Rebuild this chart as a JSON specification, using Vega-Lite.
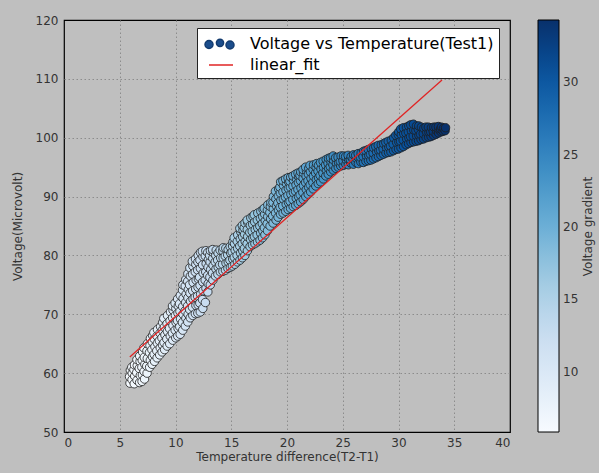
{
  "$schema": "https://vega.github.io/schema/vega-lite/v6.json",
  "width": 446,
  "height": 412,
  "autosize": {"type": "none"},
  "padding": {"left": 64, "top": 20, "right": 89, "bottom": 41},
  "background": "#bfbfbf",
  "config": {
    "font": "DejaVu Sans",
    "view": {"fill": "white", "stroke": "#000000", "strokeWidth": 1.2},
    "axis": {
      "labelFont": "DejaVu Sans",
      "labelFontSize": 12,
      "labelColor": "#333333",
      "titleFont": "DejaVu Sans",
      "titleFontSize": 12,
      "titleFontWeight": "normal",
      "titleColor": "#333333",
      "domain": false,
      "ticks": false,
      "gridColor": "#8c8c8c",
      "gridDash": [1.5, 2.5],
      "gridWidth": 1
    }
  },
  "resolve": {"scale": {"y": "independent"}, "axis": {"y": "independent"}},
  "datasets": {
    "obs": [
      {"t":5.92,"v":58.3},{"t":5.88,"v":59.4},{"t":5.95,"v":60.5},
      {"t":6.10,"v":58.9},{"t":6.12,"v":60.0},{"t":6.08,"v":61.0},
      {"t":6.30,"v":58.2},{"t":6.34,"v":59.5},{"t":6.27,"v":60.6},{"t":6.32,"v":61.4},
      {"t":6.55,"v":58.8},{"t":6.52,"v":60.1},{"t":6.57,"v":61.3},{"t":6.54,"v":62.3},
      {"t":6.78,"v":58.4},{"t":6.84,"v":59.6},{"t":6.75,"v":60.8},{"t":6.82,"v":62.0},{"t":6.79,"v":62.9},
      {"t":7.00,"v":58.6},{"t":7.03,"v":59.7},{"t":6.98,"v":61.0},{"t":7.02,"v":62.2},{"t":7.05,"v":63.6},
      {"t":7.22,"v":59.0},{"t":7.18,"v":60.3},{"t":7.25,"v":61.5},{"t":7.20,"v":62.7},{"t":7.16,"v":64.3},
      {"t":7.45,"v":60.0},{"t":7.42,"v":61.2},{"t":7.47,"v":62.5},{"t":7.44,"v":63.8},{"t":7.48,"v":65.0},
      {"t":7.68,"v":61.0},{"t":7.74,"v":62.2},{"t":7.66,"v":63.5},{"t":7.71,"v":64.7},{"t":7.75,"v":65.9},
      {"t":7.90,"v":61.5},{"t":7.93,"v":62.8},{"t":7.88,"v":64.0},{"t":7.92,"v":65.3},{"t":7.95,"v":66.4},
      {"t":8.12,"v":62.0},{"t":8.08,"v":63.2},{"t":8.15,"v":64.5},{"t":8.10,"v":65.8},{"t":8.06,"v":66.9},
      {"t":8.35,"v":62.6},{"t":8.32,"v":63.8},{"t":8.37,"v":65.1},{"t":8.34,"v":66.3},{"t":8.38,"v":67.4},
      {"t":8.58,"v":63.1},{"t":8.63,"v":64.3},{"t":8.55,"v":65.5},{"t":8.61,"v":66.8},{"t":8.66,"v":67.9},
      {"t":8.80,"v":63.6},{"t":8.83,"v":64.8},{"t":8.78,"v":66.0},{"t":8.82,"v":67.3},{"t":8.85,"v":68.6},
      {"t":9.02,"v":64.0},{"t":8.97,"v":65.2},{"t":9.05,"v":66.5},{"t":9.00,"v":67.8},{"t":8.95,"v":69.3},
      {"t":9.25,"v":64.6},{"t":9.22,"v":65.8},{"t":9.27,"v":67.1},{"t":9.24,"v":68.4},{"t":9.28,"v":69.8},
      {"t":9.48,"v":65.0},{"t":9.53,"v":66.3},{"t":9.46,"v":67.6},{"t":9.51,"v":68.9},{"t":9.55,"v":70.4},
      {"t":9.75,"v":65.6},{"t":9.72,"v":66.8},{"t":9.77,"v":68.1},{"t":9.74,"v":69.4},{"t":9.78,"v":70.7},{"t":9.73,"v":71.4},
      {"t":10.02,"v":66.0},{"t":9.97,"v":67.3},{"t":10.05,"v":68.6},{"t":9.99,"v":69.8},{"t":10.03,"v":71.0},{"t":9.96,"v":71.9},
      {"t":10.20,"v":66.3},{"t":10.23,"v":67.6},{"t":10.18,"v":68.9},{"t":10.22,"v":70.2},{"t":10.25,"v":71.4},{"t":10.19,"v":72.6},
      {"t":10.42,"v":66.6},{"t":10.38,"v":67.9},{"t":10.45,"v":69.2},{"t":10.40,"v":70.5},{"t":10.36,"v":71.8},{"t":10.43,"v":73.2},
      {"t":10.65,"v":67.3},{"t":10.62,"v":68.6},{"t":10.67,"v":70.0},{"t":10.64,"v":71.3},{"t":10.68,"v":72.7},{"t":10.63,"v":74.1},{"t":10.66,"v":75.0},
      {"t":10.88,"v":68.0},{"t":10.93,"v":69.3},{"t":10.86,"v":70.6},{"t":10.91,"v":72.0},{"t":10.95,"v":73.4},{"t":10.87,"v":74.8},{"t":10.92,"v":75.9},
      {"t":11.10,"v":68.7},{"t":11.13,"v":70.0},{"t":11.08,"v":71.4},{"t":11.12,"v":72.8},{"t":11.15,"v":74.2},{"t":11.09,"v":75.6},{"t":11.11,"v":76.9},
      {"t":11.32,"v":69.4},{"t":11.27,"v":70.8},{"t":11.35,"v":72.2},{"t":11.30,"v":73.6},{"t":11.26,"v":75.0},{"t":11.33,"v":76.5},{"t":11.29,"v":77.9},
      {"t":11.55,"v":69.8},{"t":11.52,"v":71.2},{"t":11.57,"v":72.6},{"t":11.54,"v":74.0},{"t":11.58,"v":75.4},{"t":11.53,"v":76.8},{"t":11.56,"v":78.2},{"t":11.51,"v":79.0},
      {"t":11.78,"v":70.1},{"t":11.83,"v":71.5},{"t":11.76,"v":72.9},{"t":11.81,"v":74.3},{"t":11.85,"v":75.8},{"t":11.77,"v":77.2},{"t":11.82,"v":78.5},{"t":11.79,"v":79.4},
      {"t":12.00,"v":70.2},{"t":12.03,"v":71.6},{"t":11.98,"v":73.1},{"t":12.02,"v":74.6},{"t":12.05,"v":76.0},{"t":11.99,"v":77.5},{"t":12.01,"v":78.9},{"t":12.04,"v":80.0},
      {"t":12.22,"v":70.4},{"t":12.18,"v":71.9},{"t":12.25,"v":73.4},{"t":12.20,"v":74.9},{"t":12.16,"v":76.3},{"t":12.23,"v":77.8},{"t":12.19,"v":79.2},{"t":12.24,"v":80.5},
      {"t":12.45,"v":71.0},{"t":12.42,"v":72.5},{"t":12.47,"v":74.0},{"t":12.44,"v":75.5},{"t":12.48,"v":77.0},{"t":12.43,"v":78.4},{"t":12.46,"v":79.8},{"t":12.41,"v":80.7},
      {"t":12.68,"v":72.0},{"t":12.73,"v":74.4},{"t":12.66,"v":75.8},{"t":12.71,"v":77.2},{"t":12.75,"v":78.6},{"t":12.67,"v":79.9},{"t":12.72,"v":80.8},
      {"t":12.90,"v":73.8},{"t":12.93,"v":75.2},{"t":12.88,"v":76.6},{"t":12.92,"v":78.0},{"t":12.95,"v":79.3},{"t":12.89,"v":80.5},
      {"t":13.12,"v":75.0},{"t":13.08,"v":76.3},{"t":13.15,"v":77.6},{"t":13.10,"v":78.9},{"t":13.06,"v":80.0},{"t":13.13,"v":80.8},
      {"t":13.35,"v":75.8},{"t":13.32,"v":77.0},{"t":13.37,"v":78.3},{"t":13.34,"v":79.5},{"t":13.38,"v":80.5},{"t":13.33,"v":81.0},
      {"t":13.58,"v":76.5},{"t":13.63,"v":77.7},{"t":13.56,"v":78.9},{"t":13.61,"v":80.0},{"t":13.65,"v":80.9},
      {"t":13.80,"v":76.8},{"t":13.83,"v":78.0},{"t":13.78,"v":79.2},{"t":13.82,"v":80.4},
      {"t":14.02,"v":77.2},{"t":13.97,"v":78.4},{"t":14.05,"v":79.6},{"t":14.00,"v":80.9},
      {"t":14.25,"v":77.3},{"t":14.22,"v":78.5},{"t":14.27,"v":79.6},{"t":14.24,"v":80.8},{"t":14.28,"v":81.3},
      {"t":14.48,"v":77.5},{"t":14.53,"v":78.7},{"t":14.46,"v":79.9},{"t":14.51,"v":81.2},
      {"t":14.70,"v":77.8},{"t":14.73,"v":78.9},{"t":14.68,"v":80.1},{"t":14.72,"v":81.0},
      {"t":14.92,"v":78.0},{"t":14.88,"v":79.2},{"t":14.95,"v":80.4},{"t":14.90,"v":81.5},
      {"t":15.10,"v":78.2},{"t":15.13,"v":79.4},{"t":15.08,"v":80.6},{"t":15.12,"v":81.6},{"t":15.15,"v":82.3},
      {"t":15.32,"v":78.5},{"t":15.27,"v":79.7},{"t":15.35,"v":80.9},{"t":15.30,"v":82.0},{"t":15.26,"v":83.0},
      {"t":15.55,"v":78.9},{"t":15.52,"v":80.0},{"t":15.57,"v":81.2},{"t":15.54,"v":82.4},{"t":15.58,"v":83.5},
      {"t":15.78,"v":79.2},{"t":15.83,"v":80.4},{"t":15.76,"v":81.6},{"t":15.81,"v":82.8},{"t":15.85,"v":84.0},{"t":15.77,"v":84.6},
      {"t":16.00,"v":79.6},{"t":16.03,"v":80.8},{"t":15.98,"v":82.0},{"t":16.02,"v":83.2},{"t":16.05,"v":84.3},{"t":15.99,"v":85.1},
      {"t":16.22,"v":80.0},{"t":16.18,"v":81.2},{"t":16.25,"v":82.4},{"t":16.20,"v":83.6},{"t":16.16,"v":84.7},{"t":16.23,"v":85.5},
      {"t":16.45,"v":80.8},{"t":16.42,"v":82.0},{"t":16.47,"v":83.2},{"t":16.44,"v":84.4},{"t":16.48,"v":85.6},{"t":16.43,"v":86.0},
      {"t":16.68,"v":81.5},{"t":16.73,"v":82.7},{"t":16.66,"v":83.9},{"t":16.71,"v":85.1},{"t":16.75,"v":86.4},
      {"t":16.90,"v":81.8},{"t":16.93,"v":83.0},{"t":16.88,"v":84.1},{"t":16.92,"v":85.3},{"t":16.95,"v":86.6},
      {"t":17.12,"v":82.0},{"t":17.08,"v":83.2},{"t":17.15,"v":84.4},{"t":17.10,"v":85.7},{"t":17.06,"v":86.9},
      {"t":17.35,"v":82.3},{"t":17.32,"v":83.5},{"t":17.37,"v":84.7},{"t":17.34,"v":86.0},{"t":17.38,"v":87.2},
      {"t":17.58,"v":82.6},{"t":17.63,"v":83.8},{"t":17.56,"v":85.0},{"t":17.61,"v":86.3},{"t":17.65,"v":87.5},
      {"t":17.80,"v":83.0},{"t":17.83,"v":84.2},{"t":17.78,"v":85.4},{"t":17.82,"v":86.6},{"t":17.85,"v":87.8},
      {"t":18.02,"v":83.5},{"t":17.97,"v":84.7},{"t":18.05,"v":85.9},{"t":18.00,"v":87.0},{"t":17.96,"v":88.0},
      {"t":18.25,"v":84.2},{"t":18.22,"v":85.4},{"t":18.27,"v":86.6},{"t":18.24,"v":87.7},{"t":18.28,"v":88.6},
      {"t":18.48,"v":85.0},{"t":18.53,"v":86.2},{"t":18.46,"v":87.3},{"t":18.51,"v":88.3},{"t":18.55,"v":89.0},
      {"t":18.75,"v":85.5},{"t":18.72,"v":86.7},{"t":18.77,"v":87.9},{"t":18.74,"v":89.0},{"t":18.78,"v":90.0},
      {"t":19.02,"v":86.0},{"t":18.97,"v":87.2},{"t":19.05,"v":88.4},{"t":19.00,"v":89.6},{"t":18.96,"v":90.9},
      {"t":19.20,"v":86.5},{"t":19.23,"v":87.7},{"t":19.18,"v":88.9},{"t":19.22,"v":90.1},{"t":19.25,"v":91.3},
      {"t":19.42,"v":87.0},{"t":19.38,"v":88.2},{"t":19.45,"v":89.4},{"t":19.40,"v":90.6},{"t":19.36,"v":91.6},{"t":19.43,"v":92.5},
      {"t":19.65,"v":87.2},{"t":19.62,"v":88.4},{"t":19.67,"v":89.6},{"t":19.64,"v":90.8},{"t":19.68,"v":91.9},{"t":19.63,"v":92.7},
      {"t":19.88,"v":87.5},{"t":19.93,"v":88.7},{"t":19.86,"v":89.9},{"t":19.91,"v":91.1},{"t":19.95,"v":92.2},{"t":19.87,"v":93.0},
      {"t":20.10,"v":87.8},{"t":20.13,"v":89.0},{"t":20.08,"v":90.2},{"t":20.12,"v":91.4},{"t":20.15,"v":92.5},{"t":20.09,"v":93.2},
      {"t":20.32,"v":88.0},{"t":20.27,"v":89.2},{"t":20.35,"v":90.4},{"t":20.30,"v":91.6},{"t":20.26,"v":92.6},{"t":20.33,"v":93.3},
      {"t":20.55,"v":88.3},{"t":20.52,"v":89.5},{"t":20.57,"v":90.7},{"t":20.54,"v":91.8},{"t":20.58,"v":92.8},{"t":20.53,"v":93.5},
      {"t":20.78,"v":88.5},{"t":20.83,"v":89.7},{"t":20.76,"v":90.9},{"t":20.81,"v":92.0},{"t":20.85,"v":93.0},{"t":20.77,"v":93.8},
      {"t":21.00,"v":88.8},{"t":21.03,"v":90.0},{"t":20.98,"v":91.2},{"t":21.02,"v":92.4},{"t":21.05,"v":93.4},{"t":20.99,"v":94.0},
      {"t":21.22,"v":89.1},{"t":21.18,"v":90.3},{"t":21.25,"v":91.5},{"t":21.20,"v":92.7},{"t":21.16,"v":93.6},{"t":21.23,"v":94.2},
      {"t":21.45,"v":89.5},{"t":21.42,"v":90.7},{"t":21.47,"v":91.9},{"t":21.44,"v":93.1},{"t":21.48,"v":94.0},{"t":21.43,"v":94.6},
      {"t":21.68,"v":90.0},{"t":21.73,"v":91.2},{"t":21.66,"v":92.4},{"t":21.71,"v":93.5},{"t":21.75,"v":94.4},{"t":21.67,"v":95.0},
      {"t":21.90,"v":90.4},{"t":21.93,"v":91.6},{"t":21.88,"v":92.7},{"t":21.92,"v":93.8},{"t":21.95,"v":94.8},
      {"t":22.12,"v":90.8},{"t":22.08,"v":92.0},{"t":22.15,"v":93.1},{"t":22.10,"v":94.2},{"t":22.06,"v":95.3},
      {"t":22.35,"v":91.3},{"t":22.32,"v":92.4},{"t":22.37,"v":93.5},{"t":22.34,"v":94.6},{"t":22.38,"v":95.4},
      {"t":22.58,"v":91.8},{"t":22.63,"v":92.9},{"t":22.56,"v":94.0},{"t":22.61,"v":95.0},{"t":22.65,"v":95.6},
      {"t":22.80,"v":92.2},{"t":22.83,"v":93.2},{"t":22.78,"v":94.3},{"t":22.82,"v":95.3},
      {"t":23.02,"v":92.5},{"t":22.97,"v":93.6},{"t":23.05,"v":94.7},{"t":23.00,"v":95.8},
      {"t":23.25,"v":93.0},{"t":23.22,"v":94.0},{"t":23.27,"v":95.0},{"t":23.24,"v":96.0},
      {"t":23.48,"v":93.5},{"t":23.53,"v":94.5},{"t":23.46,"v":95.4},{"t":23.51,"v":96.3},
      {"t":23.70,"v":93.8},{"t":23.73,"v":94.8},{"t":23.68,"v":95.7},{"t":23.72,"v":96.5},
      {"t":23.92,"v":94.2},{"t":23.88,"v":95.1},{"t":23.95,"v":95.9},{"t":23.90,"v":96.6},
      {"t":24.15,"v":94.5},{"t":24.12,"v":95.4},{"t":24.17,"v":96.2},{"t":24.14,"v":96.9},
      {"t":24.38,"v":94.8},{"t":24.43,"v":95.7},{"t":24.36,"v":96.6},
      {"t":24.60,"v":95.0},{"t":24.63,"v":95.8},{"t":24.58,"v":96.7},
      {"t":24.82,"v":95.2},{"t":24.78,"v":96.0},{"t":24.85,"v":96.9},
      {"t":25.05,"v":95.3},{"t":25.02,"v":96.1},{"t":25.07,"v":96.9},
      {"t":25.28,"v":95.5},{"t":25.33,"v":96.2},{"t":25.26,"v":96.8},
      {"t":25.50,"v":95.4},{"t":25.53,"v":96.3},{"t":25.48,"v":97.0},
      {"t":25.72,"v":95.7},{"t":25.68,"v":96.3},{"t":25.75,"v":96.8},
      {"t":25.95,"v":95.5},{"t":25.92,"v":96.4},{"t":25.97,"v":97.1},
      {"t":26.18,"v":95.8},{"t":26.23,"v":96.5},{"t":26.16,"v":97.0},
      {"t":26.40,"v":95.6},{"t":26.43,"v":96.6},{"t":26.38,"v":97.3},
      {"t":26.62,"v":95.9},{"t":26.58,"v":96.7},{"t":26.65,"v":97.4},
      {"t":26.85,"v":95.8},{"t":26.82,"v":96.8},{"t":26.87,"v":97.7},
      {"t":27.08,"v":96.0},{"t":27.13,"v":96.9},{"t":27.06,"v":97.8},
      {"t":27.30,"v":96.1},{"t":27.33,"v":97.0},{"t":27.28,"v":98.0},
      {"t":27.52,"v":96.2},{"t":27.48,"v":97.2},{"t":27.55,"v":98.2},
      {"t":27.75,"v":96.4},{"t":27.72,"v":97.4},{"t":27.77,"v":98.3},
      {"t":27.98,"v":96.6},{"t":28.03,"v":97.6},{"t":27.96,"v":98.5},
      {"t":28.20,"v":96.8},{"t":28.23,"v":97.8},{"t":28.18,"v":98.7},
      {"t":28.42,"v":97.0},{"t":28.38,"v":97.9},{"t":28.45,"v":98.8},
      {"t":28.65,"v":97.2},{"t":28.62,"v":98.1},{"t":28.67,"v":99.0},
      {"t":28.88,"v":97.4},{"t":28.93,"v":98.3},{"t":28.86,"v":99.2},
      {"t":29.10,"v":97.5},{"t":29.13,"v":98.4},{"t":29.08,"v":99.4},
      {"t":29.32,"v":97.6},{"t":29.28,"v":98.6},{"t":29.35,"v":99.6},
      {"t":29.55,"v":97.8},{"t":29.52,"v":98.9},{"t":29.57,"v":100.0},
      {"t":29.78,"v":98.0},{"t":29.83,"v":99.2},{"t":29.76,"v":100.4},
      {"t":30.00,"v":98.1},{"t":30.03,"v":99.3},{"t":29.98,"v":100.5},{"t":30.02,"v":101.0},
      {"t":30.22,"v":98.3},{"t":30.18,"v":99.4},{"t":30.25,"v":100.5},{"t":30.20,"v":101.5},
      {"t":30.45,"v":98.5},{"t":30.42,"v":99.6},{"t":30.47,"v":100.7},{"t":30.44,"v":101.7},
      {"t":30.68,"v":98.8},{"t":30.73,"v":99.8},{"t":30.66,"v":100.8},{"t":30.71,"v":101.8},
      {"t":30.90,"v":99.0},{"t":30.93,"v":100.0},{"t":30.88,"v":101.0},{"t":30.92,"v":102.0},
      {"t":31.12,"v":99.2},{"t":31.08,"v":100.2},{"t":31.15,"v":101.2},{"t":31.10,"v":102.2},
      {"t":31.35,"v":99.3},{"t":31.32,"v":100.3},{"t":31.37,"v":101.3},{"t":31.34,"v":102.3},
      {"t":31.58,"v":99.4},{"t":31.63,"v":100.3},{"t":31.56,"v":101.2},{"t":31.61,"v":102.0},
      {"t":31.80,"v":99.5},{"t":31.83,"v":100.4},{"t":31.78,"v":101.4},{"t":31.82,"v":102.0},
      {"t":32.02,"v":99.7},{"t":31.97,"v":100.6},{"t":32.05,"v":101.8},
      {"t":32.25,"v":99.8},{"t":32.22,"v":100.7},{"t":32.27,"v":101.6},
      {"t":32.48,"v":100.0},{"t":32.53,"v":100.9},{"t":32.46,"v":101.8},
      {"t":32.70,"v":100.1},{"t":32.73,"v":100.9},{"t":32.68,"v":101.8},
      {"t":32.92,"v":100.2},{"t":32.88,"v":101.0},{"t":32.95,"v":101.7},
      {"t":33.15,"v":100.4},{"t":33.12,"v":101.1},{"t":33.17,"v":101.8},
      {"t":33.38,"v":100.6},{"t":33.43,"v":101.2},{"t":33.36,"v":101.8},
      {"t":33.60,"v":100.8},{"t":33.63,"v":101.4},{"t":33.58,"v":101.9},
      {"t":33.82,"v":101.0},{"t":33.78,"v":101.5},{"t":33.85,"v":101.8},
      {"t":34.00,"v":101.1},{"t":34.03,"v":101.6},
      {"t":34.18,"v":101.2},{"t":34.22,"v":101.7}
    ],
    "fit": [
      {"t": 5.9, "v": 62.75},
      {"t": 33.9, "v": 109.8}
    ],
    "keys": [
      {"series": "Voltage vs Temperature(Test1)"},
      {"series": "linear_fit"}
    ]
  },
  "layer": [
    {
      "data": {"name": "obs"},
      "mark": {"type": "point", "filled": true, "shape": "circle", "size": 72, "opacity": 1, "stroke": "#1e1e1e", "strokeWidth": 0.8},
      "encoding": {
        "x": {
          "field": "t", "type": "quantitative",
          "scale": {"domain": [0, 40], "nice": false, "zero": false},
          "axis": {
            "values": [0, 5, 10, 15, 20, 25, 30, 35, 40],
            "title": "Temperature difference(T2-T1)",
            "labelPadding": 5,
            "titlePadding": 3,
            "gridOpacity": {"condition": {"test": "datum.value === 0 || datum.value === 40", "value": 0}, "value": 1}
          }
        },
        "y": {
          "field": "v", "type": "quantitative",
          "scale": {"domain": [50, 120], "nice": false, "zero": false},
          "axis": {
            "values": [50, 60, 70, 80, 90, 100, 110, 120],
            "title": "Voltage(Microvolt)",
            "labelPadding": 6,
            "titlePadding": 11,
            "gridOpacity": {"condition": {"test": "datum.value === 50 || datum.value === 120", "value": 0}, "value": 1}
          }
        },
        "color": {
          "field": "t", "type": "quantitative",
          "scale": {
            "domain": [5.86, 34.28],
            "range": ["#f7fbff", "#deebf7", "#c6dbef", "#9ecae1", "#6baed6", "#4292c6", "#2171b5", "#08519c", "#08306b"],
            "interpolate": "rgb"
          },
          "legend": {
            "type": "gradient",
            "orient": "none",
            "legendX": 474,
            "legendY": 0,
            "direction": "vertical",
            "gradientLength": 412,
            "gradientThickness": 21,
            "gradientStrokeColor": "#000000",
            "gradientStrokeWidth": 1,
            "values": [10, 15, 20, 25, 30],
            "labelFont": "DejaVu Sans",
            "labelFontSize": 12,
            "labelColor": "#333333",
            "labelOffset": 4,
            "title": null
          }
        }
      }
    },
    {
      "data": {"name": "fit"},
      "mark": {"type": "line", "color": "#e02424", "strokeWidth": 1.3},
      "encoding": {
        "x": {"field": "t", "type": "quantitative"},
        "y": {
          "field": "v", "type": "quantitative",
          "scale": {"domain": [50, 120], "nice": false, "zero": false},
          "axis": {
            "orient": "right",
            "title": "Voltage gradient",
            "titleAngle": 270,
            "titlePadding": 84,
            "labels": false,
            "ticks": false,
            "grid": false,
            "domain": false
          }
        }
      }
    },
    {
      "data": {"name": "keys"},
      "mark": {"type": "point", "filled": true, "fill": "#1b4d8c", "opacity": 0, "size": 400, "strokeWidth": 1.2},
      "encoding": {
        "shape": {
          "field": "series", "type": "nominal",
          "scale": {
            "domain": ["Voltage vs Temperature(Test1)", "linear_fit"],
            "range": [
              "M-1.5,0.05a0.4,0.4 0 1,0 0.8,0a0.4,0.4 0 1,0 -0.8,0ZM-0.36,-0.12a0.36,0.36 0 1,0 0.72,0a0.36,0.36 0 1,0 -0.72,0ZM0.6,0.1a0.4,0.4 0 1,0 0.8,0a0.4,0.4 0 1,0 -0.8,0Z",
              "M-1.1,0L1.3,0"
            ]
          },
          "legend": {
            "orient": "none",
            "legendX": 133,
            "legendY": 8,
            "title": null,
            "padding": 5,
            "symbolOffset": 7,
            "symbolSize": 400,
            "labelOffset": 19,
            "rowPadding": 2,
            "labelFont": "DejaVu Sans",
            "labelFontSize": 16,
            "labelColor": "#000000",
            "labelLimit": 400,
            "strokeColor": "#222222",
            "fillColor": "#ffffff",
            "encode": {
              "symbols": {
                "update": {
                  "opacity": {"value": 1},
                  "fillOpacity": {"value": 1},
                  "strokeOpacity": {"value": 1},
                  "strokeWidth": {"value": 1.2}
                }
              }
            }
          }
        },
        "stroke": {
          "field": "series", "type": "nominal",
          "scale": {
            "domain": ["Voltage vs Temperature(Test1)", "linear_fit"],
            "range": ["#123a6e", "#e02424"]
          },
          "legend": null
        }
      }
    }
  ]
}
